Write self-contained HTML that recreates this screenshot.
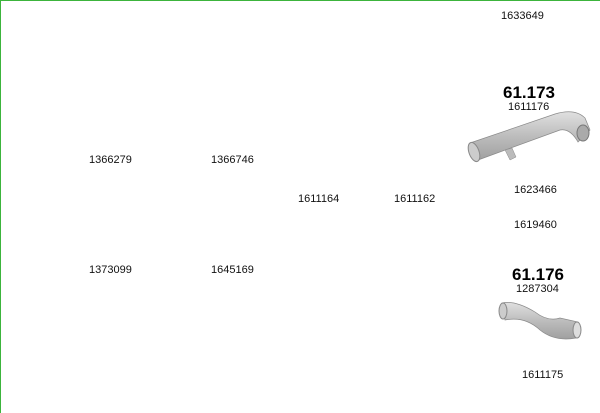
<!DOCTYPE html>
<html><head><style>
body{margin:0;width:600px;height:413px;overflow:hidden;background:#fff;font-family:"Liberation Sans",sans-serif;}
.b{position:absolute;left:0;top:0;width:600px;height:413px;border-top:1px solid #3cb43c;border-left:1px solid #3cb43c;box-sizing:border-box;}
.t{position:absolute;font-size:11px;color:#111;white-space:nowrap;}
.h{position:absolute;font-size:17px;font-weight:bold;color:#000;}
</style></head><body>
<div class="b"></div>
<div class="t" style="left:501px;top:10px">1633649</div>
<div class="h" style="left:503px;top:83px">61.173</div>
<div class="t" style="left:508px;top:101px">1611176</div>
<div class="t" style="left:89px;top:154px">1366279</div>
<div class="t" style="left:211px;top:154px">1366746</div>
<div class="t" style="left:298px;top:193px">1611164</div>
<div class="t" style="left:394px;top:193px">1611162</div>
<div class="t" style="left:514px;top:184px">1623466</div>
<div class="t" style="left:514px;top:219px">1619460</div>
<div class="t" style="left:89px;top:264px">1373099</div>
<div class="t" style="left:211px;top:264px">1645169</div>
<div class="h" style="left:512px;top:265px">61.176</div>
<div class="t" style="left:516px;top:283px">1287304</div>
<div class="t" style="left:522px;top:369px">1611175</div>
<svg style="position:absolute;left:0;top:0" width="600" height="413">
<defs><linearGradient id="g" x1="0" y1="0" x2="0" y2="1"><stop offset="0" stop-color="#e0e0e0"/><stop offset="0.5" stop-color="#bdbdbd"/><stop offset="1" stop-color="#a0a0a0"/></linearGradient></defs>
<path d="M470 143 L555 114 Q575 108 585 118 L590 130 L578 142 Q570 128 560 130 L478 160 Z" fill="url(#g)" stroke="#8a8a8a" stroke-width="0.7"/>
<ellipse cx="474" cy="152" rx="5" ry="10" transform="rotate(-20 474 152)" fill="#ccc" stroke="#888"/>
<ellipse cx="583" cy="133" rx="6" ry="8" fill="#aaa" stroke="#777"/>
<path d="M505 150 L510 160 L516 157 L512 148 Z" fill="#bbb" stroke="#888" stroke-width="0.5"/>
<path d="M502 303 Q515 300 535 312 Q548 322 560 318 L578 322 L576 338 Q555 342 540 330 Q525 316 505 320 Z" fill="url(#g)" stroke="#8a8a8a" stroke-width="0.7"/>
<ellipse cx="503" cy="311" rx="4" ry="8" fill="#ccc" stroke="#888"/>
<ellipse cx="577" cy="330" rx="4" ry="8" fill="#ddd" stroke="#888"/>
</svg>
</body></html>
